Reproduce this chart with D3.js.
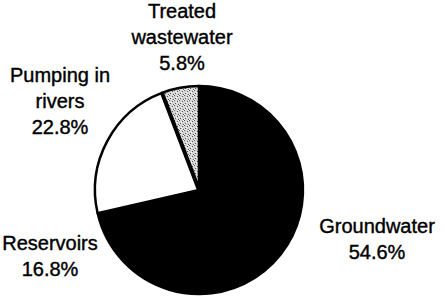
<!DOCTYPE html>
<html>
<head>
<meta charset="utf-8">
<script src="https://cdn.jsdelivr.net/npm/d3@7"></script>
<style>
  body { margin: 0; background: #fff; }
  svg { display: block; }
</style>
</head>
<body>
<svg id="drawing_region"></svg>
<script>
// sources of water, share in percent
const sources = ["Groundwater", "Reservoirs", "Pumping in rivers", "Treated wastewater"];
const shares = [54.6, 16.8, 22.8, 5.8];
const labelLines = [["Groundwater"], ["Reservoirs"], ["Pumping in", "rivers"], ["Treated", "wastewater"]];

const config = {
    parent: '#drawing_region',
    width: 444,
    height: 298,
    cx: 199,
    cy: 190,
    radius: 104
};

// where each label block sits (centre x, first baseline y)
const labelPos = [[377, 233], [50, 250], [60, 82], [182, 18]];
const fills = ["#000", "#000", "#fff", "url(#stipple)"];

const data = sources.map((s, i) => ({ source: s, value: shares[i], lines: labelLines[i] }));

const svg = d3.select(config.parent)
    .attr('width', config.width)
    .attr('height', config.height);

// stippled grey for the small slice
const pat = svg.append('defs').append('pattern')
    .attr('id', 'stipple')
    .attr('width', 5).attr('height', 5)
    .attr('patternUnits', 'userSpaceOnUse');
pat.append('rect').attr('width', 5).attr('height', 5).attr('fill', '#d6d6d6');
[[0, 0], [3, 1], [1, 3], [4, 4]].forEach(p => {
    pat.append('rect').attr('x', p[0]).attr('y', p[1])
        .attr('width', 1).attr('height', 1).attr('fill', '#555');
});
[[2, 2], [4, 0], [0, 4]].forEach(p => {
    pat.append('rect').attr('x', p[0]).attr('y', p[1])
        .attr('width', 1).attr('height', 1).attr('fill', '#fff');
});

const pie = d3.pie().sort(null).value(d => d.value);
const arc = d3.arc().innerRadius(0).outerRadius(config.radius);

const chart = svg.append('g')
    .attr('transform', `translate(${config.cx}, ${config.cy})`);

const arcs = pie(data);

chart.selectAll('path.slice')
    .data(arcs)
    .join('path')
    .attr('class', 'slice')
    .attr('d', arc)
    .attr('fill', (d, i) => fills[i])
    .attr('stroke', '#000')
    .attr('stroke-width', 2.5)
    .attr('stroke-linejoin', 'round');

// heavy divider between the white and grey slices
const cut = arcs[3].startAngle;
chart.append('line')
    .attr('x1', 0).attr('y1', 0)
    .attr('x2', Math.sin(cut) * config.radius)
    .attr('y2', -Math.cos(cut) * config.radius)
    .attr('stroke', '#000')
    .attr('stroke-width', 4);

const labels = svg.selectAll('text.label')
    .data(data)
    .join('text')
    .attr('class', 'label')
    .attr('text-anchor', 'middle')
    .attr('font-family', 'Arial, "Liberation Sans", Helvetica, sans-serif')
    .attr('font-size', 20)
    .attr('fill', '#000')
    .attr('stroke', '#000')
    .attr('stroke-width', 0.4);

labels.each(function(d, i) {
    const t = d3.select(this);
    const lines = d.lines.concat([d3.format('.1f')(d.value) + '%']);
    lines.forEach((ln, k) => {
        t.append('tspan')
            .attr('x', labelPos[i][0])
            .attr('y', labelPos[i][1] + k * 26)
            .text(ln);
    });
});
</script>
</body>
</html>
